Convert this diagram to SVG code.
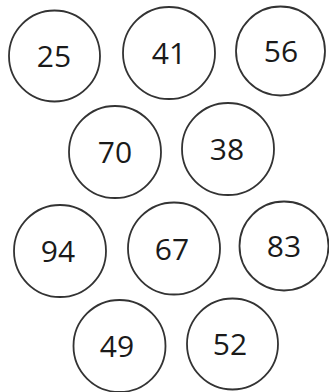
<svg xmlns="http://www.w3.org/2000/svg" width="329" height="392" viewBox="0 0 329 392">
<style>
.n circle{fill:#fff;stroke:#333;stroke-width:1.8}
.n text{font-family:"Open Sans","Noto Sans",sans-serif;font-size:30px;fill:#1a1a1a;text-anchor:middle}
</style>
<rect width="329" height="392" fill="#fff"/>
<g id="connectors"/>
<g id="n25" class="n"><circle cx="54.5" cy="56" r="45.5"/><text x="54" y="67">25</text></g>
<g id="n41" class="n"><circle cx="169" cy="53" r="46"/><text x="169" y="64">41</text></g>
<g id="n56" class="n"><circle cx="280.5" cy="51" r="44.5"/><text x="281" y="62">56</text></g>
<g id="n70" class="n"><circle cx="115" cy="152" r="46"/><text x="115" y="163">70</text></g>
<g id="n38" class="n"><circle cx="228" cy="149" r="46"/><text x="227" y="160">38</text></g>
<g id="n94" class="n"><circle cx="60" cy="251" r="46"/><text x="58" y="262">94</text></g>
<g id="n67" class="n"><circle cx="174" cy="248.5" r="46"/><text x="172" y="259.5">67</text></g>
<g id="n83" class="n"><circle cx="284" cy="246" r="44.5"/><text x="284" y="256.5">83</text></g>
<g id="n49" class="n"><circle cx="119.5" cy="346" r="46"/><text x="117" y="357">49</text></g>
<g id="n52" class="n"><circle cx="232.5" cy="344" r="45.5"/><text x="230" y="355">52</text></g>
</svg>
